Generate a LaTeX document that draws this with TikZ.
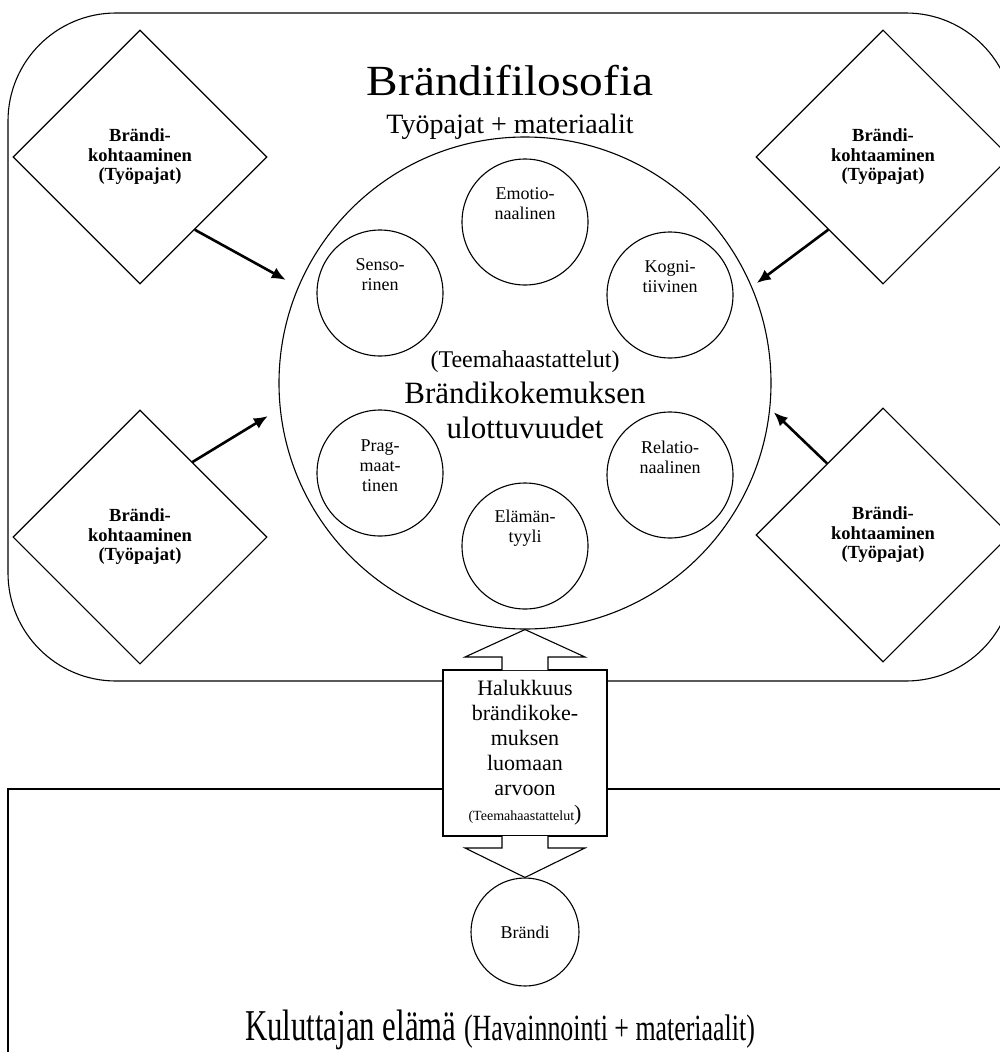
\documentclass[tikz,border=0pt]{standalone}
\usepackage{fontspec}
\setmainfont{Liberation Serif}
\usepackage{graphicx}
\usetikzlibrary{arrows.meta, shapes.geometric}

\begin{document}
\begin{tikzpicture}[x=1pt, y=-1pt, line width=1.1pt,
  >={Latex[length=14pt,width=12pt]},
  meet/.style={diamond, draw, minimum size=254pt, inner sep=0pt, align=center,
    font=\bfseries\fontsize{18.5}{19.5}\selectfont},
  dim/.style={circle, draw, minimum size=126pt, inner sep=0pt},
  dimlbl/.style={align=center, yshift=18pt, font=\fontsize{18}{20}\selectfont},
  link/.style={line width=2.6pt}]
\useasboundingbox (0,0) rectangle (1000,1052);

% the two frames
  \draw[rounded corners=108pt] (8,13) rectangle (1014,681);
  \draw (8,789) rectangle (1014,1080);

% define the brand meetings
  \node[meet] (dtl) at (140,157) {Brändi-\\kohtaaminen\\(Työpajat)};
  \node[meet] (dbl) [below of=dtl, node distance=380pt] {Brändi-\\kohtaaminen\\(Työpajat)};
  \node[meet] (dtr) [right of=dtl, node distance=743pt] {Brändi-\\kohtaaminen\\(Työpajat)};
  \node[meet] (dbr) [below of=dtr, node distance=378pt] {Brändi-\\kohtaaminen\\(Työpajat)};

  \node[anchor=base] (title) at (510,95) {\scalebox{1.1}[1]{\fontsize{43}{43}\selectfont Brändifilosofia}};
  \node[anchor=base, font=\fontsize{28}{28}\selectfont] (tools) at (510,133) {Työpajat + materiaalit};

% define the dimensions
  \node[circle, draw, minimum size=492pt] (dim) at (525,383) {};
  \node[anchor=base, font=\fontsize{24}{24}\selectfont] (teema) at (525,367) {(Teemahaastattelut)};
  \node[align=center, inner sep=0pt, font=\fontsize{31}{35}\selectfont] (dimname) at (525,410) {Brändikokemuksen\\ulottuvuudet};
  \node[dim, label={[dimlbl]center:{Emotio-\\naalinen}}] (emo) at (525,222) {};
  \node[dim, label={[dimlbl]center:{Senso-\\rinen}}] (sen) at (380,293) {};
  \node[dim, label={[dimlbl]center:{Kogni-\\tiivinen}}] (kog) at (670,295) {};
  \node[dim, label={[dimlbl, yshift=-11pt]center:{Prag-\\maat-\\tinen}}] (pra) at (380,473) {};
  \node[dim, label={[dimlbl]center:{Relatio-\\naalinen}}] (rel) at (670,475) {};
  \node[dim, label={[dimlbl]center:{Elämän-\\tyyli}}] (ela) at (525,546) {};

% define the willingness box and the brand
  \node[draw, fill=white, minimum width=164pt, minimum height=166pt, inner sep=0pt, align=center,
    font=\fontsize{22}{25}\selectfont] (halu) at (525,753)
    {Halukkuus\\brändikoke-\\muksen\\luomaan\\arvoon\\{\fontsize{14}{25}\selectfont(Teemahaastattelut})};
  \node[circle, draw, minimum size=108pt, font=\fontsize{18}{18}\selectfont] (brandi) at (525,932) {Brändi};
  \draw[fill=white] (502,670) |- (465,657) -- (dim.south) -- (585,657) -| (548,670);
  \draw[fill=white] (502,836) |- (465,848) -- (brandi.north) -- (585,848) -| (548,836);

  \node[anchor=base] (life) at (500,1040) {\scalebox{0.7}[1]{\fontsize{44}{44}\selectfont Kuluttajan elämä \fontsize{37}{37}\selectfont(Havainnointi + materiaalit)}};

% define the links
  \path[->, link] (dtl.-53) edge [shorten >=14pt] (dim.157)
        (dbl.55) edge [shorten >=14pt] (dim.186)
        (dtr.233) edge [shorten >=6pt] (dim.23)
        (dbr.128) edge [shorten >=5pt] (dim.-6);

\end{tikzpicture}
\end{document}
